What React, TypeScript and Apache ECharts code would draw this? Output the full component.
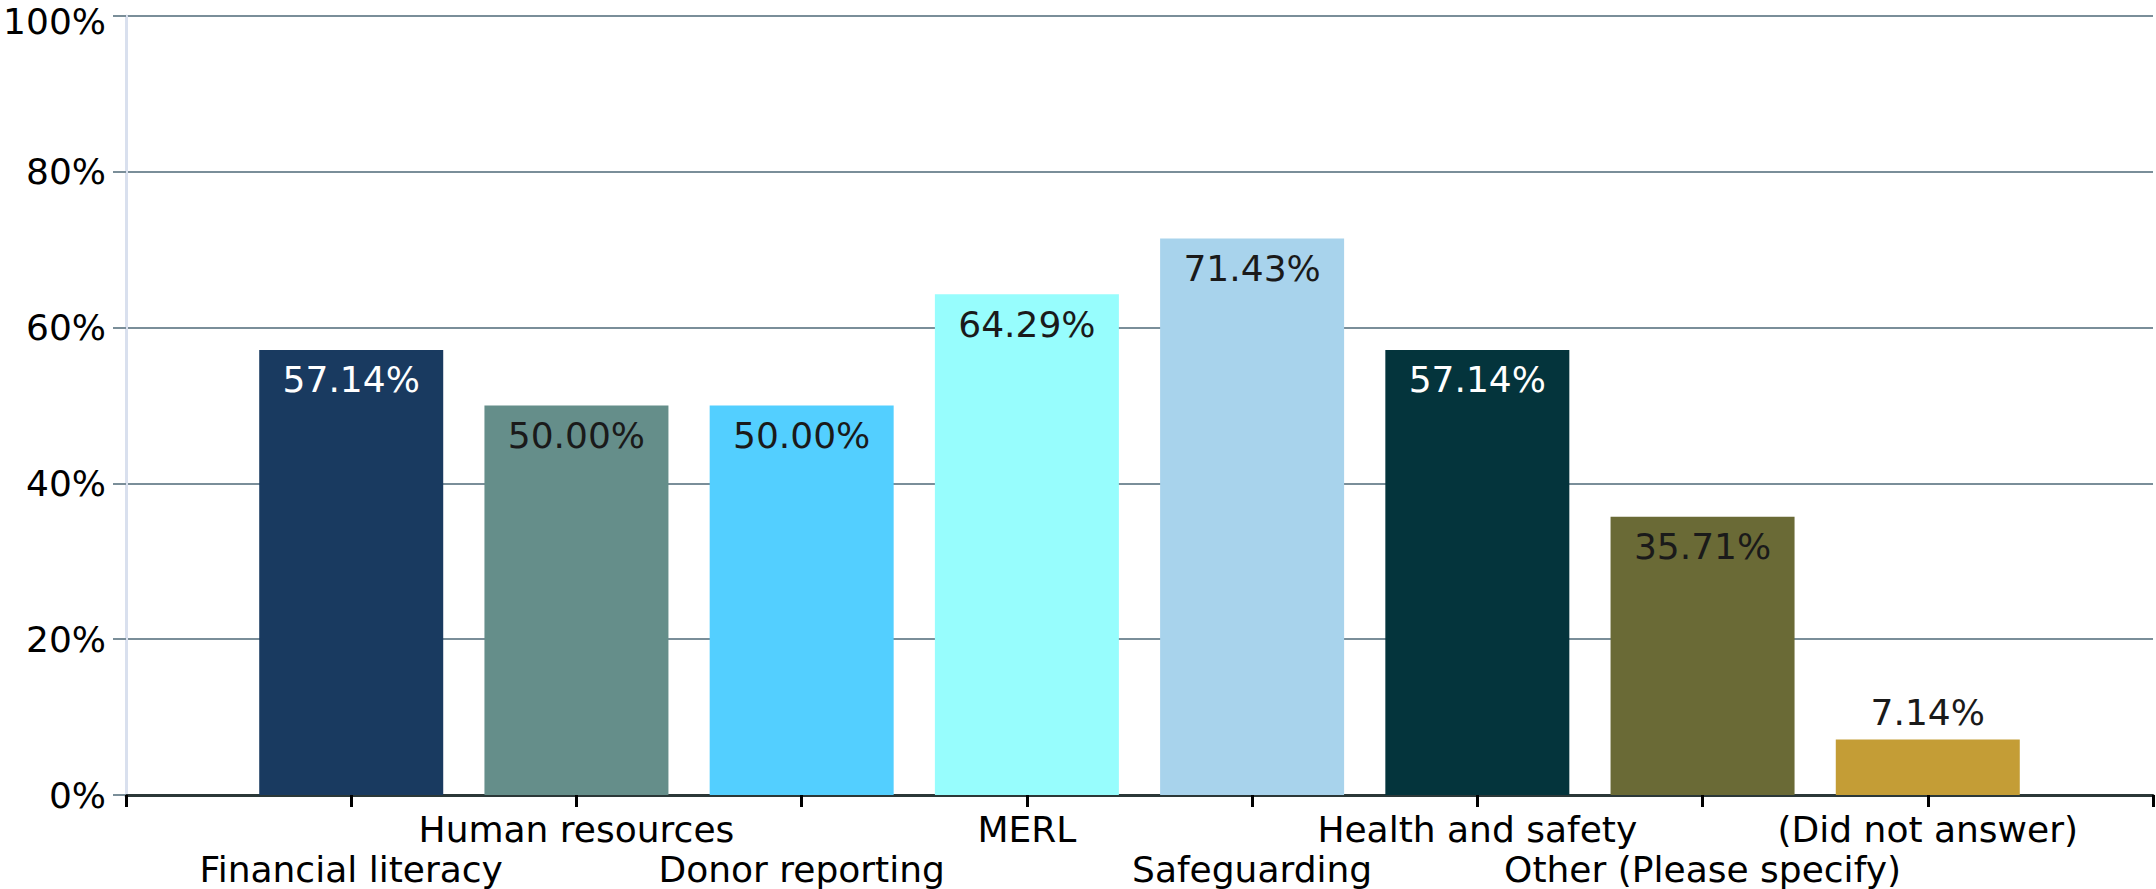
import React, { useEffect, useRef } from "react";
import * as echarts from "echarts";

const categories = [
  "",
  "Financial literacy",
  "Human resources",
  "Donor reporting",
  "MERL",
  "Safeguarding",
  "Health and safety",
  "Other (Please specify)",
  "(Did not answer)",
  "",
];
const values: (number | null)[] = [null, 57.14, 50.0, 50.0, 64.29, 71.43, 57.14, 35.71, 7.14, null];
const barColors = ["", "#193a60", "#658e8a", "#53cfff", "#97fdfd", "#a8d3ec", "#04343c", "#6a6a36", "#c49d36", ""];
const labelColors = ["", "#ffffff", "#1a1a1a", "#1a1a1a", "#1a1a1a", "#1a1a1a", "#ffffff", "#1a1a1a", "#1a1a1a", ""];
const labelOutside = [false, false, false, false, false, false, false, false, true, false];
const yTicks = { min: 0, max: 100, interval: 20 };

const FONT = "DejaVu Sans";

export default function App() {
  const ref = useRef<HTMLDivElement>(null);
  useEffect(() => {
    if (!ref.current) return;
    const chart = echarts.init(ref.current, null, { renderer: "svg" });
    chart.setOption({
      animation: false,
      backgroundColor: "#ffffff",
      grid: { left: 126, right: 1, top: 16, bottom: 87, containLabel: false },
      xAxis: {
        type: "category",
        data: categories,
        boundaryGap: false,
        axisLine: { show: true, lineStyle: { color: "#2b3838", width: 3 } },
        axisTick: { show: true, alignWithLabel: true, interval: 0, length: 12, lineStyle: { color: "#000000", width: 3 } },
        axisLabel: {
          interval: 0,
          margin: 14,
          fontFamily: FONT,
          fontSize: 36,
          lineHeight: 40,
          color: "#000000",
          verticalAlign: "top",
          formatter: (v: string, i: number) => (i % 2 === 1 ? "\n" + v : v),
        },
        splitLine: { show: false },
      },
      yAxis: {
        type: "value",
        min: yTicks.min,
        max: yTicks.max,
        interval: yTicks.interval,
        axisLine: { show: true, lineStyle: { color: "#d9e0ee", width: 3 } },
        axisTick: { show: true, length: 13, lineStyle: { color: "#7a8e99", width: 2 } },
        axisLabel: {
          margin: 20,
          fontFamily: FONT,
          fontSize: 36,
          lineHeight: 28,
          color: "#000000",
          formatter: (v: number) => (v === yTicks.max ? "{top|" + v + "%}" : v + "%"),
          rich: {
            top: { fontFamily: FONT, fontSize: 36, color: "#000000", padding: [10, 0, 0, 0] },
          },
        },
        splitLine: { show: true, lineStyle: { color: "#7a8e99", width: 2 } },
      },
      series: [
        {
          type: "bar",
          barWidth: 184,
          data: values.map((v, i) => ({
            value: v,
            itemStyle: { color: barColors[i] },
            label: {
              show: v !== null,
              position: labelOutside[i] ? "top" : "insideTop",
              distance: labelOutside[i] ? 9 : 12,
              color: labelColors[i],
              fontFamily: FONT,
              fontSize: 36,
              formatter: (p: any) => Number(p.value).toFixed(2) + "%",
            },
          })),
        },
      ],
    });
    return () => chart.dispose();
  }, []);
  return (
    <div
      ref={ref}
      style={{ position: "fixed", left: 0, top: 0, width: 2156, height: 889, background: "#fff" }}
    />
  );
}
